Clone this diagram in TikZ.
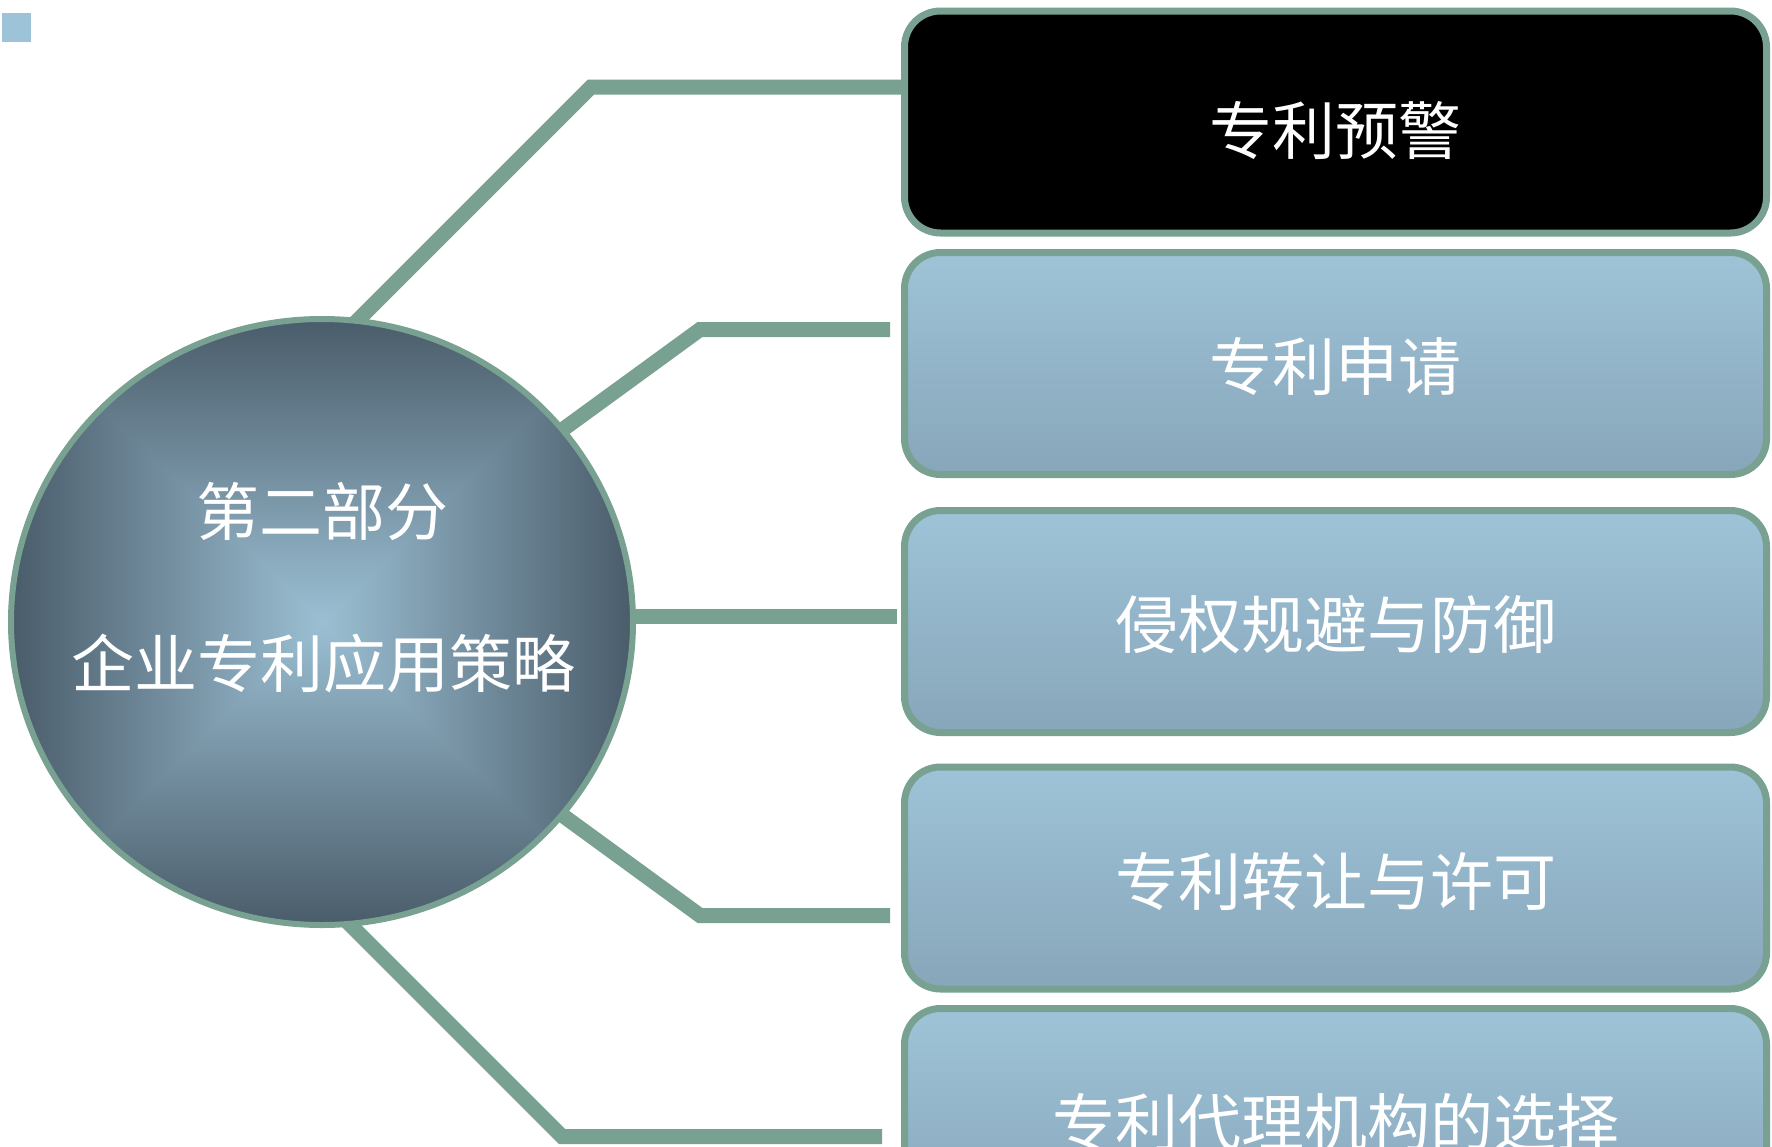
\documentclass[tikz,border=0pt]{standalone}
\usepackage{fontspec}
\setmainfont{Noto Sans CJK SC}
\usetikzlibrary{shapes.geometric}
\definecolor{edgegreen}{RGB}{120,161,145}
\definecolor{boxtop}{RGB}{158,195,215}
\definecolor{boxbot}{RGB}{136,166,186}
\definecolor{marker}{RGB}{157,195,217}
\pgfdeclarelayer{bg}
\pgfdeclarelayer{paper}
\pgfsetlayers{paper,bg,main}
\pgfdeclarefunctionalshading{sqgrad}{\pgfpoint{-50bp}{-50bp}}{\pgfpoint{50bp}{50bp}}{}{
  abs exch abs 2 copy lt {exch} if pop
  25 div dup 1 gt {pop 1} if
  dup -0.318 mul 0.608 add exch
  dup -0.388 mul 0.749 add exch
  -0.411 mul 0.827 add
}
\begin{document}
\begin{tikzpicture}[x=1pt,y=-1pt,
  boxbase/.style={rectangle, rounded corners=36pt, draw=edgegreen, line width=7pt,
    minimum width=862pt, minimum height=222pt, inner sep=0pt, text=white,
    font=\fontsize{63}{63}\selectfont, text height=54pt, text depth=0pt},
  gradbox/.style={boxbase, top color=boxtop, bottom color=boxbot},
  blackbox/.style={boxbase, fill=black, text height=64pt},
  hubtext/.style={inner sep=0pt, text=white, font=\fontsize{63}{63}\selectfont,
    text height=48pt, text depth=0pt},
  conn/.style={draw=edgegreen, line width=15pt, line join=miter}
]
\useasboundingbox (0,0) rectangle (1772,1146);
\begin{pgfonlayer}{paper}
\fill[white] (0,0) rectangle (1772,1146);
\end{pgfonlayer}
\fill[marker] (2,13) rectangle (31,42);

% hub
\node[ellipse, draw=edgegreen, line width=6pt, minimum width=622pt, minimum height=606pt,
  shading=sqgrad, inner sep=0pt] (hub) at (322,622) {};
\node[hubtext] (h1) at (322,511) {第二部分};
\node[hubtext] (h2) at (323,663) {企业专利应用策略};

% boxes
\node[blackbox] (b1) at (1335.5,122) {专利预警};
\node[gradbox] (b2) at (1335.5,363.5) {专利申请};
\node[gradbox] (b3) at (1335.5,621.5) {侵权规避与防御};
\node[gradbox] (b4) at (1335.5,878) {专利转让与许可};
\node[gradbox] (b5) at (1335.5,1119.5) {专利代理机构的选择};

% connector points
\coordinate (s1) at (341,337);
\coordinate (k1) at (591,87);
\coordinate (s2) at (534,450.5);
\coordinate (k2) at (700,329.5);
\coordinate (e2) at (890,329.5);
\coordinate (s3) at (600,616);
\coordinate (e3) at (897,616);
\coordinate (s4) at (534,794.5);
\coordinate (k4) at (700,915.5);
\coordinate (e4) at (890,915.5);
\coordinate (s5) at (302,876.5);
\coordinate (k5) at (562,1136.5);
\coordinate (e5) at (882,1136.5);

\begin{pgfonlayer}{bg}
\draw[conn] (s1) -- (k1) -- (k1 -| b1.west);
\draw[conn] (s2) -- (k2) -- (e2);
\draw[conn] (s3) -- (e3);
\draw[conn] (s4) -- (k4) -- (e4);
\draw[conn] (s5) -- (k5) -- (e5);
\end{pgfonlayer}
\end{tikzpicture}
\end{document}
